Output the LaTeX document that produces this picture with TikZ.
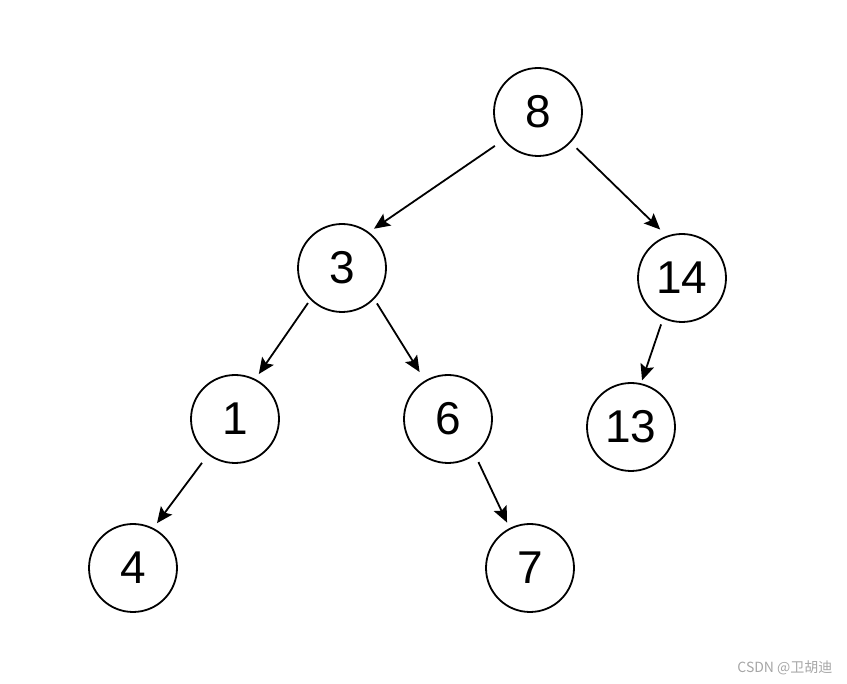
\documentclass[tikz,border=0pt]{standalone}
\usepackage{fontspec}
\setmainfont{Liberation Sans}
\newfontfamily\cjkfont{Noto Sans CJK SC}
\usetikzlibrary{arrows.meta}
\begin{document}
\begin{tikzpicture}[x=1pt,y=1pt,
  treenode/.style={circle,draw,line width=1.8pt,minimum size=88pt,inner sep=0pt,
    font=\fontsize{46}{46}\selectfont},
  edge/.style={line width=1.8pt,-{Stealth[length=16pt,width=14pt,inset=3pt]}}]
\useasboundingbox (0,0) rectangle (847,-684);
\node[treenode] (n8)  at (538,-112) {8};
\node[treenode] (n3)  at (342,-268) {3};
\node[treenode] (n14) at (682,-278) {14};
\node[treenode] (n1)  at (235,-419) {1};
\node[treenode] (n6)  at (448,-419) {6};
\node[treenode] (n13) at (631,-427) {13};
\node[treenode] (n4)  at (133,-568) {4};
\node[treenode] (n7)  at (530,-568) {7};
\draw[edge,shorten <=10pt,shorten >=6pt] (n8.219) -- (n3.53);
\draw[edge,shorten <=8pt,shorten >=9pt] (n8.-43) -- (n14.110);
\draw[edge,shorten <=4pt,shorten >=6pt] (n3.225) -- (n1.63);
\draw[edge,shorten <=5pt,shorten >=10pt] (n3.-44) -- (n6.121);
\draw[edge,shorten <=10pt,shorten >=6pt] (n1.233) -- (n4.63);
\draw[edge,shorten <=8pt,shorten >=6pt] (n6.-53) -- (n7.117);
\draw[edge,shorten <=6pt,shorten >=3pt] (n14.-115) -- (n13.77);
\node[font=\cjkfont\fontsize{14}{14}\selectfont,text=black!35,anchor=east] (wm) at (836,-668) {CSDN @卫胡迪};
\end{tikzpicture}
\end{document}
